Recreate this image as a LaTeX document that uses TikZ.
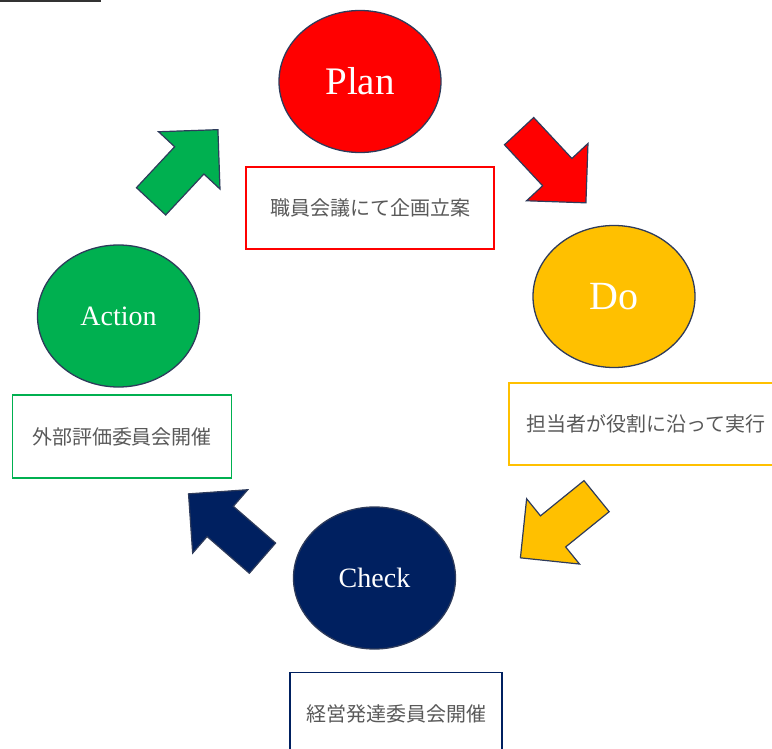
\documentclass[tikz,border=0pt]{standalone}
\usepackage{fontspec}
\setmainfont{Liberation Serif}
\newfontfamily\jpfont{Noto Sans CJK JP}
\usetikzlibrary{shapes,shapes.geometric}
\usepackage{xcolor}

\definecolor{planred}{HTML}{FF0000}
\definecolor{doyellow}{HTML}{FFC000}
\definecolor{actiongreen}{HTML}{00B050}
\definecolor{checknavy}{HTML}{002060}
\definecolor{outline}{HTML}{2E3B5B}
\definecolor{textgray}{HTML}{595959}

\begin{document}
\begin{tikzpicture}[x=1pt, y=-1pt,
    every node/.style={
        inner sep=0pt
    },
    phase/.style={
        ellipse,
        draw=outline,
        line width=1.3pt,
        minimum width=162pt,
        minimum height=142pt,
        text=white
    },
    task/.style={
        rectangle,
        draw,
        line width=1.5pt,
        minimum height=82pt,
        text=textgray,
        font=\jpfont\fontsize{20}{24}\selectfont
    },
    pics/blockarrow/.style={code={
        \draw[draw=outline, line width=1.2pt, fill=#1]
            (-49,-20) -- (7,-20) -- (7,-42) -- (49,0) -- (7,42) -- (7,20) -- (-49,20) -- cycle;
    }}
]
    \useasboundingbox (0,0) rectangle (772,749);
    \clip (0,0) rectangle (772,749);

    \draw[line width=2pt, black!80] (0,1.5) -- (101,1.5);

    % the four phases
    \node (plan) [phase, fill=planred, font=\fontsize{39}{46}\selectfont, shift={(360,81.5)}]
    {
        Plan
    };
    \node (do) [phase, fill=doyellow, font=\fontsize{40}{46}\selectfont, shift={(614,296.5)}]
    {
        Do
    };
    \node (check) [phase, fill=checknavy, font=\fontsize{28}{34}\selectfont, shift={(374.5,578)}]
    {
        Check
    };
    \node (action) [phase, fill=actiongreen, font=\fontsize{28}{34}\selectfont, shift={(118.5,316)}]
    {
        Action
    };

    % what is done in each phase
    \node (plan_task) [task, draw=planred, minimum width=248pt, shift={(370,208)}]
    {
        職員会議にて企画立案
    };
    \node (do_task) [task, draw=doyellow, minimum width=274pt, shift={(646,424)}]
    {
        担当者が役割に沿って実行
    };
    \node (check_task) [task, draw=checknavy, minimum width=212pt, minimum height=83pt, shift={(396,714)}]
    {
        経営発達委員会開催
    };
    \node (action_task) [task, draw=actiongreen, minimum width=219pt, minimum height=83pt, shift={(122,436.5)}]
    {
        外部評価委員会開催
    };

    % block arrows between the phases
    \pic (plan_to_do) [rotate=-47] at (552.5,167) {blockarrow=planred};
    \pic (do_to_check) [rotate=-141] at (558.5,527) {blockarrow=doyellow};
    \pic (check_to_action) [rotate=139] at (225.5,526) {blockarrow=checknavy};
    \pic (action_to_plan) [rotate=47] at (184.5,165.5) {blockarrow=actiongreen};
\end{tikzpicture}
\end{document}
